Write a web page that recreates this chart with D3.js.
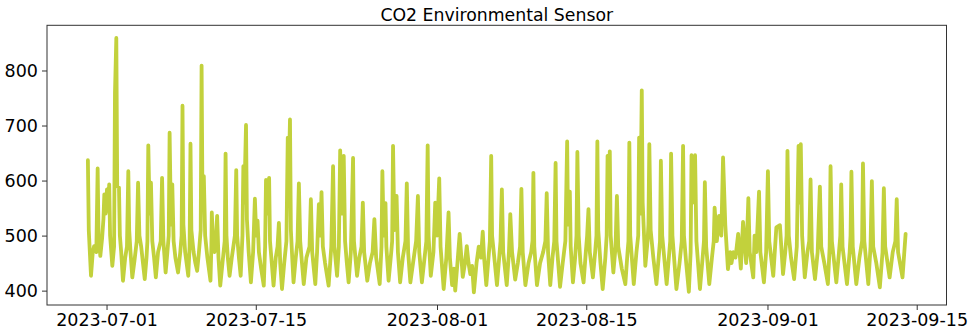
<!DOCTYPE html>
<html>
<head>
<meta charset="utf-8">
<script src="https://cdn.jsdelivr.net/npm/d3@7"></script>
<style>
  body { margin: 0; background: #fff; }
  text { font-family: "DejaVu Sans", sans-serif; fill: #000; }
</style>
</head>
<body>
<div id="chart"></div>
<script>
// readings (2023, "MM-DD HH"): peaks, troughs and shoulders
const times = [
  '06-29 06','06-29 08','06-29 13','06-29 17','06-29 20','06-30 01',
  '06-30 04','06-30 06','06-30 10','06-30 14','06-30 17',
  '06-30 19','06-30 22','07-01 01','07-01 03','07-01 06','07-01 08','07-01 13','07-01 17',
  '07-01 19','07-01 22','07-02 00','07-02 04','07-02 06','07-02 09','07-02 13','07-02 18','07-02 22',
  '07-03 01','07-03 03','07-03 06','07-03 10','07-03 15','07-03 20',
  '07-03 23','07-04 02','07-04 06','07-04 10','07-04 14','07-04 18','07-04 20',
  '07-04 22','07-05 01','07-05 04','07-05 07','07-05 11','07-05 15','07-05 20','07-06 02',
  '07-06 05','07-06 08','07-06 13','07-06 17','07-06 20',
  '07-06 22','07-07 01','07-07 04','07-07 07','07-07 11','07-07 17','07-07 22','07-08 01',
  '07-08 03','07-08 05','07-08 09','07-08 16','07-08 19',
  '07-08 21','07-08 23','07-09 04','07-09 08','07-09 12','07-09 16','07-09 20',
  '07-09 22','07-10 00','07-10 03','07-10 06','07-10 11','07-10 18','07-10 20',
  '07-10 21','07-11 00','07-11 03','07-11 06','07-11 09','07-11 12','07-11 16','07-11 21','07-12 02',
  '07-12 04','07-12 06','07-12 09','07-12 13','07-12 18','07-13 01',
  '07-13 04','07-13 06','07-13 10','07-13 14','07-13 18','07-13 20','07-13 22','07-14 02','07-14 04','07-14 08','07-14 13','07-14 18',
  '07-14 22','07-15 01','07-15 04','07-15 07','07-15 12','07-15 18','07-15 21',
  '07-15 23','07-16 02','07-16 06','07-16 08','07-16 12','07-16 16','07-16 21','07-17 01',
  '07-17 04','07-17 07','07-17 11','07-17 16','07-17 21',
  '07-18 00','07-18 02','07-18 05','07-18 07','07-18 10','07-18 13','07-18 18','07-18 22',
  '07-19 01','07-19 04','07-19 08','07-19 12','07-19 18','07-20 01',
  '07-20 04','07-20 07','07-20 14','07-20 18','07-20 22','07-21 01','07-21 04','07-21 07','07-21 12','07-21 20',
  '07-22 02','07-22 06','07-22 09','07-22 15','07-22 19','07-22 22','07-23 01','07-23 06','07-23 09','07-23 13','07-23 17','07-23 22',
  '07-24 03','07-24 05','07-24 12','07-24 17','07-24 22',
  '07-25 01','07-25 04','07-25 11','07-25 17','07-25 23',
  '07-26 03','07-26 07','07-26 15','07-26 19','07-26 21','07-27 00','07-27 04','07-27 06','07-27 11','07-27 17','07-27 19',
  '07-27 21','07-28 00','07-28 05','07-28 08','07-28 13','07-28 19','07-29 01',
  '07-29 04','07-29 07','07-29 12','07-29 18','07-30 01',
  '07-30 05','07-30 08','07-30 14','07-30 20','07-31 00',
  '07-31 03','07-31 05','07-31 10','07-31 16','07-31 20','08-01 00','08-01 05','08-01 08','08-01 15','08-01 21',
  '08-02 02','08-02 05','08-02 10','08-02 14','08-02 17','08-02 22','08-03 03','08-03 10','08-03 15','08-03 19','08-03 23',
  '08-04 03','08-04 07','08-04 11','08-04 17','08-04 22','08-05 03','08-05 07','08-05 10','08-05 15','08-05 20','08-05 23',
  '08-06 02','08-06 04','08-06 09','08-06 15','08-06 20','08-06 23',
  '08-07 02','08-07 05','08-07 13','08-07 18','08-07 21','08-08 01','08-08 08','08-08 14','08-08 19',
  '08-08 22','08-09 01','08-09 07','08-09 14','08-09 20','08-09 23',
  '08-10 01','08-10 03','08-10 09','08-10 16','08-10 23','08-11 04',
  '08-11 07','08-11 10','08-11 15','08-11 20','08-12 00',
  '08-12 03','08-12 05','08-12 13','08-12 19','08-13 01',
  '08-13 05','08-13 07','08-13 11','08-13 13','08-13 18','08-13 23','08-14 02',
  '08-14 04','08-14 07','08-14 11','08-14 18','08-14 23','08-15 02',
  '08-15 05','08-15 08','08-15 15','08-15 20','08-15 23',
  '08-16 01','08-16 03','08-16 08','08-16 13','08-16 19','08-16 22',
  '08-17 00','08-17 02','08-17 05','08-17 07','08-17 13','08-17 18','08-17 21','08-18 00','08-18 08','08-18 16','08-18 21','08-18 23',
  '08-19 01','08-19 03','08-19 11','08-19 17','08-19 21','08-19 23','08-20 02','08-20 05','08-20 07','08-20 13','08-20 18','08-20 20',
  '08-20 22','08-21 01','08-21 07','08-21 14','08-21 19','08-21 22',
  '08-22 00','08-22 03','08-22 13','08-22 18','08-22 21',
  '08-22 23','08-23 02','08-23 11','08-23 18','08-23 23',
  '08-24 02','08-24 04','08-24 09','08-24 15','08-24 19','08-24 21','08-25 00','08-25 05','08-25 08','08-25 16','08-25 22','08-26 01',
  '08-26 03','08-26 06','08-26 13','08-26 19','08-26 23',
  '08-27 01','08-27 06','08-27 11','08-27 16','08-27 20','08-28 01','08-28 07','08-28 12','08-28 15','08-28 19',
  '08-29 00','08-29 06','08-29 12','08-29 17','08-30 00','08-30 05','08-30 08','08-30 16','08-30 19','08-30 23',
  '08-31 05','08-31 08','08-31 16','08-31 21',
  '09-01 01','09-01 04','09-01 13','09-01 20','09-02 04','09-02 11','09-02 16','09-02 19',
  '09-02 21','09-03 00','09-03 05','09-03 12','09-03 18','09-03 22','09-04 00','09-04 03','09-04 06','09-04 12','09-04 18','09-04 22',
  '09-05 01','09-05 04','09-05 11','09-05 17','09-05 22','09-06 01','09-06 08','09-06 16','09-06 20',
  '09-06 22','09-07 01','09-07 11','09-07 17','09-07 20',
  '09-07 22','09-08 01','09-08 11','09-08 17','09-08 19',
  '09-08 21','09-09 00','09-09 08','09-09 15','09-09 21',
  '09-09 23','09-10 02','09-10 11','09-10 16',
  '09-10 19','09-10 22','09-11 05','09-11 13','09-11 19',
  '09-11 22','09-12 01','09-12 11','09-12 18','09-13 00',
  '09-13 03','09-13 06','09-13 16','09-13 23'
];
const co2 = [
  637, 510, 427, 470, 481, 470,
  622, 500, 463, 495, 530,
  575, 540, 584, 545, 593, 500, 445, 480,
  759, 859, 590, 587, 500, 470, 418, 460, 480,
  617, 510, 470, 424, 455, 490,
  596, 500, 480, 450, 421, 460, 490,
  664, 540, 596, 490, 460, 424, 470, 490,
  605, 490, 433, 470, 500,
  687, 520, 593, 490, 460, 433, 470, 500,
  736, 520, 470, 427, 480,
  667, 510, 470, 450, 436, 470, 510,
  809, 560, 608, 500, 460, 418, 480,
  542, 480, 470, 490, 536, 460, 409, 450, 490,
  649, 500, 460, 427, 460, 500,
  619, 500, 460, 427, 500, 626, 560, 701, 530, 470, 415, 470,
  567, 500, 527, 470, 440, 409, 480,
  601, 540, 605, 490, 450, 409, 460, 480,
  523, 450, 403, 450, 490,
  678, 600, 711, 510, 460, 415, 460, 490,
  595, 490, 450, 412, 460, 480,
  566, 470, 412, 470, 557, 500, 579, 480, 450, 409,
  480, 626, 480, 427, 480, 655, 540, 645, 490, 450, 415, 470,
  641, 490, 427, 460, 480,
  560, 470, 418, 450, 470,
  530, 460, 412, 480, 617, 500, 559, 480, 418, 470, 490,
  663, 510, 572, 470, 415, 460, 490,
  595, 470, 415, 450, 490,
  572, 470, 415, 460, 490,
  664, 500, 427, 470, 560, 500, 604, 480, 403, 460,
  542, 460, 410, 440, 400, 450, 503, 425, 450, 481, 450,
  430, 445, 397, 450, 480, 460, 507, 460, 410, 460, 490,
  645, 500, 460, 410, 460, 490,
  584, 470, 410, 470, 539, 470, 420, 450, 480,
  585, 470, 410, 450, 470, 490,
  614, 480, 410, 450, 470, 490,
  577, 470, 410, 460, 490,
  632, 490, 407, 450, 490,
  671, 520, 580, 480, 415, 460, 500,
  652, 500, 450, 415, 470, 500,
  548, 470, 424, 470, 500,
  671, 510, 450, 403, 460, 500,
  645, 560, 653, 500, 433, 480, 572, 480, 440, 412, 470, 490,
  669, 500, 412, 470, 500, 678, 540, 764, 560, 445, 490, 520,
  666, 510, 460, 412, 460, 490,
  636, 500, 412, 460, 490,
  649, 500, 403, 450, 490,
  663, 500, 450, 398, 470, 646, 560, 646, 490, 403, 460, 490,
  597, 480, 412, 460, 490,
  551, 490, 536, 500, 642, 520, 439, 470, 450, 470,
  460, 503, 440, 525, 450, 568, 470, 424, 500, 470,
  580, 470, 415, 470,
  617, 490, 427, 515, 519, 430, 470, 500,
  654, 500, 460, 421, 480, 663, 560, 666, 500, 424, 470, 490,
  602, 470, 421, 470, 589, 480, 450, 412, 480,
  626, 490, 415, 470, 500,
  593, 480, 412, 470, 500,
  616, 480, 412, 460, 490,
  631, 490, 412, 480,
  599, 480, 450, 406, 470,
  586, 480, 424, 470, 490,
  566, 470, 424, 503
];
const yTicks = [400, 500, 600, 700, 800];
const xTickLabels = ['2023-07-01', '2023-07-15', '2023-08-01', '2023-08-15', '2023-09-01', '2023-09-15'];
const title = 'CO2 Environmental Sensor';

if (times.length !== co2.length) console.error('length mismatch', times.length, co2.length);

const width = 978, height = 334;
const margin = { top: 25.3, right: 31.5, bottom: 29, left: 47 };
const w = width - margin.left - margin.right,
  h = height - margin.top - margin.bottom;

const parse = d3.timeParse('%Y-%m-%d %H');
const parseDay = d3.timeParse('%Y-%m-%d');
const data = times.map((t, i) => ({ date: parse('2023-' + t), value: co2[i] }));

// matplotlib-like 5% padding around the data
const xExt = d3.extent(data, d => d.date);
const xPad = (xExt[1] - xExt[0]) * 0.05;
const yExt = d3.extent(data, d => d.value);
const yPad = (yExt[1] - yExt[0]) * 0.05;

const x = d3.scaleTime()
  .domain([new Date(+xExt[0] - xPad), new Date(+xExt[1] + xPad)])
  .range([0, w]);
const y = d3.scaleLinear()
  .domain([yExt[0] - yPad, yExt[1] + yPad])
  .range([h, 0]);

const svg = d3.select('#chart')
  .append('svg')
  .attr('width', width)
  .attr('height', height);

const g = svg.append('g')
  .attr('transform', 'translate(' + margin.left + ',' + margin.top + ')');

g.append('path')
  .datum(data)
  .attr('fill', 'none')
  .attr('stroke', '#c2d13c')
  .attr('stroke-width', 3.8)
  .attr('stroke-linejoin', 'round')
  .attr('stroke-linecap', 'round')
  .attr('d', d3.line()
    .x(d => x(d.date))
    .y(d => y(d.value))
  );

// axes
const xAxis = g.append('g')
  .attr('transform', 'translate(0,' + h + ')')
  .call(d3.axisBottom(x)
    .tickValues(xTickLabels.map(parseDay))
    .tickFormat(d3.timeFormat('%Y-%m-%d'))
    .tickSize(5)
    .tickPadding(4));

const yAxis = g.append('g')
  .call(d3.axisLeft(y)
    .tickValues(yTicks)
    .tickSize(5)
    .tickPadding(4));

[xAxis, yAxis].forEach(a => {
  a.select('.domain').remove();
  a.selectAll('line').attr('stroke', '#333').attr('stroke-width', 1);
  a.selectAll('text')
    .style('font-family', '"DejaVu Sans", sans-serif')
    .style('font-size', '17.5px')
    .attr('fill', '#000');
});

// frame
g.append('rect')
  .attr('x', 0)
  .attr('y', 0)
  .attr('width', w)
  .attr('height', h)
  .attr('fill', 'none')
  .attr('stroke', '#333')
  .attr('stroke-width', 1);

svg.append('text')
  .attr('x', margin.left + w / 2)
  .attr('y', 20.5)
  .attr('text-anchor', 'middle')
  .style('font-size', '17.3px')
  .text(title);
</script>
</body>
</html>
